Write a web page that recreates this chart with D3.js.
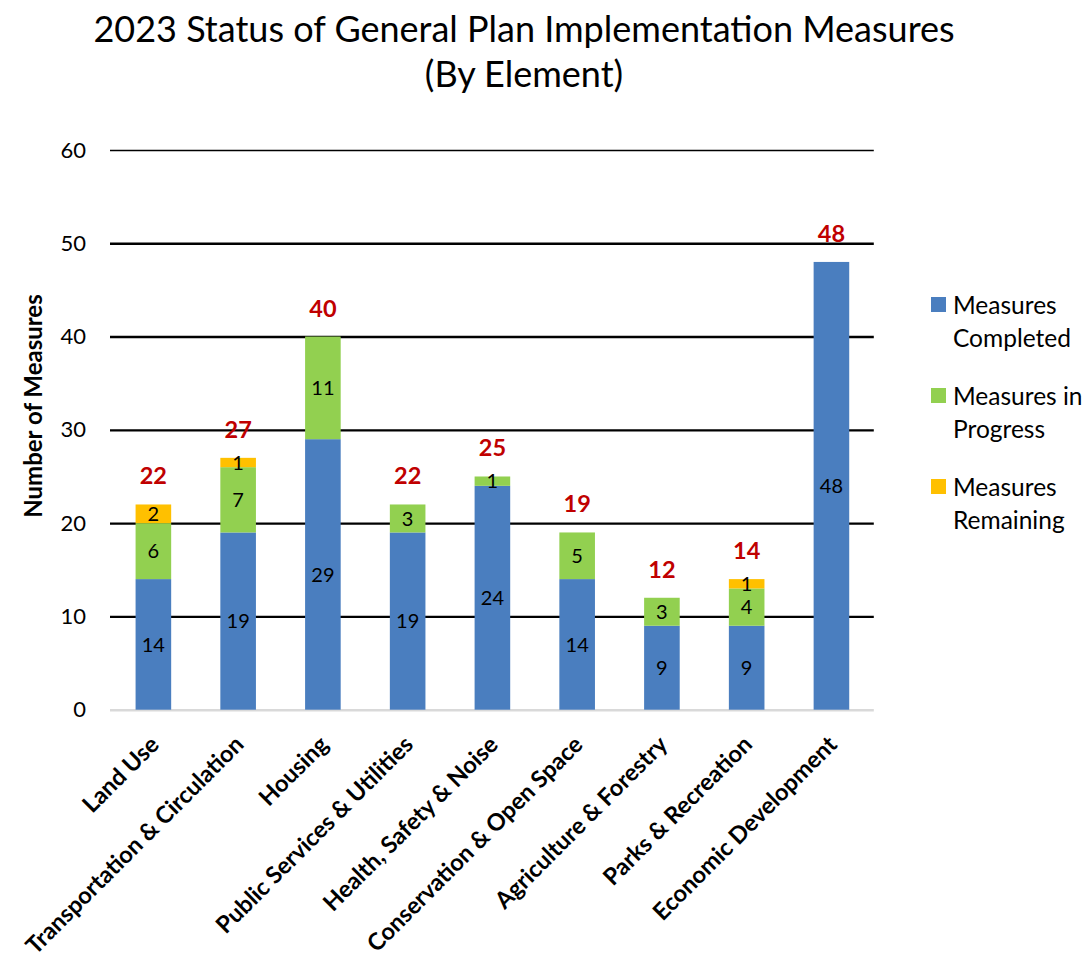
<!DOCTYPE html>
<html><head><meta charset="utf-8">
<script src="https://cdn.jsdelivr.net/npm/d3@7"></script>
<style>body{margin:0;background:#fff}svg{display:block}</style>
</head><body>
<script>
const categories = ["Land Use","Transportation & Circulation","Housing","Public Services & Utilities","Health, Safety & Noise","Conservation & Open Space","Agriculture & Forestry","Parks & Recreation","Economic Development"];
const completed = [14,19,29,19,24,14,9,9,48];
const inProgress = [6,7,11,3,1,5,3,4,0];
const remaining = [2,1,0,0,0,0,0,1,0];
const seriesNames = ["Measures Completed","Measures in Progress","Measures Remaining"];
const yTicks = [0,10,20,30,40,50,60];

const W=1089,H=962;
const font="Lato, 'Open Sans', sans-serif";
const colors=["#4a7ebf","#92d050","#ffc000"];
const svg=d3.select("body").append("svg").attr("width",W).attr("height",H);

const x=d3.scaleBand().domain(categories).range([111,873.8]).paddingInner(0.58).paddingOuter(0.29);
const y=d3.scaleLinear().domain([0,60]).range([709.7,150]);

const rows=categories.map((c,i)=>({cat:c,completed:completed[i],inProgress:inProgress[i],remaining:remaining[i]}));
const stack=d3.stack().keys(["completed","inProgress","remaining"])(rows);

// title
svg.append("text").attr("x",524).attr("y",42).attr("text-anchor","middle").attr("font-family",font).attr("font-size",36).attr("fill","#000").text("2023 Status of General Plan Implementation Measures");
svg.append("text").attr("x",524).attr("y",87).attr("text-anchor","middle").attr("font-family",font).attr("font-size",36).attr("fill","#000").text("(By Element)");

// gridlines
const yAxis=d3.axisLeft(y).tickValues(yTicks).tickSize(-(873.8-110)).tickPadding(24);
const gy=svg.append("g").attr("transform","translate(110,0)").call(yAxis);
gy.select(".domain").remove();
gy.selectAll(".tick line").attr("stroke",d=>d===0?"#d9d9d9":"#000").attr("stroke-width",d=>d===60?1.6:2.4);
gy.selectAll(".tick text").attr("font-family",font).attr("font-size",22).attr("fill","#000");

// y title
svg.append("text").attr("transform","translate(42,406) rotate(-90)").attr("text-anchor","middle").attr("font-family",font).attr("font-weight","bold").attr("font-size",24).text("Number of Measures");

// bars
const layers=svg.append("g").selectAll("g").data(stack).join("g").attr("fill",(d,i)=>colors[i]);
layers.selectAll("rect").data(d=>d.filter(s=>s[1]-s[0]>0)).join("rect")
  .attr("x",d=>x(d.data.cat)).attr("width",x.bandwidth())
  .attr("y",d=>y(d[1])).attr("height",d=>y(d[0])-y(d[1]));
// segment labels
layers.selectAll("text").data(d=>d.filter(s=>s[1]-s[0]>0)).join("text")
  .attr("x",d=>x(d.data.cat)+x.bandwidth()/2).attr("y",d=>(y(d[0])+y(d[1]))/2).attr("dy","0.36em")
  .attr("text-anchor","middle").attr("font-family",font).attr("font-size",20).attr("fill","#000")
  .text(d=>d[1]-d[0]);

// totals
svg.append("g").selectAll("text").data(rows).join("text")
  .attr("x",d=>x(d.cat)+x.bandwidth()/2)
  .attr("y",d=>y(d.completed+d.inProgress+d.remaining)-20)
  .attr("text-anchor","middle").attr("font-family",font).attr("font-weight","bold").attr("font-size",23.5).attr("fill","#c00000")
  .text(d=>d.completed+d.inProgress+d.remaining);

// x labels
svg.append("g").selectAll("text").data(categories).join("text")
  .attr("transform",d=>`translate(${x(d)+x.bandwidth()/2+7},${746}) rotate(-45)`)
  .attr("text-anchor","end").attr("font-family",font).attr("font-weight","bold").attr("font-size",23.5).attr("fill","#000")
  .text(d=>d);

// legend
const lg=svg.append("g");
seriesNames.forEach((n,i)=>{
  const yy=297+i*91;
  lg.append("rect").attr("x",931).attr("y",yy).attr("width",15).attr("height",15).attr("fill",colors[i]);
  const k=i===1?2:1, w=n.split(" ");
  [w.slice(0,k).join(" "), w.slice(k).join(" ")].forEach((p,j)=>lg.append("text").attr("x",953).attr("y",yy+8+j*33).attr("dy","0.36em").attr("font-family",font).attr("font-size",24.5).attr("fill","#000").text(p));
});
</script>
</body></html>
